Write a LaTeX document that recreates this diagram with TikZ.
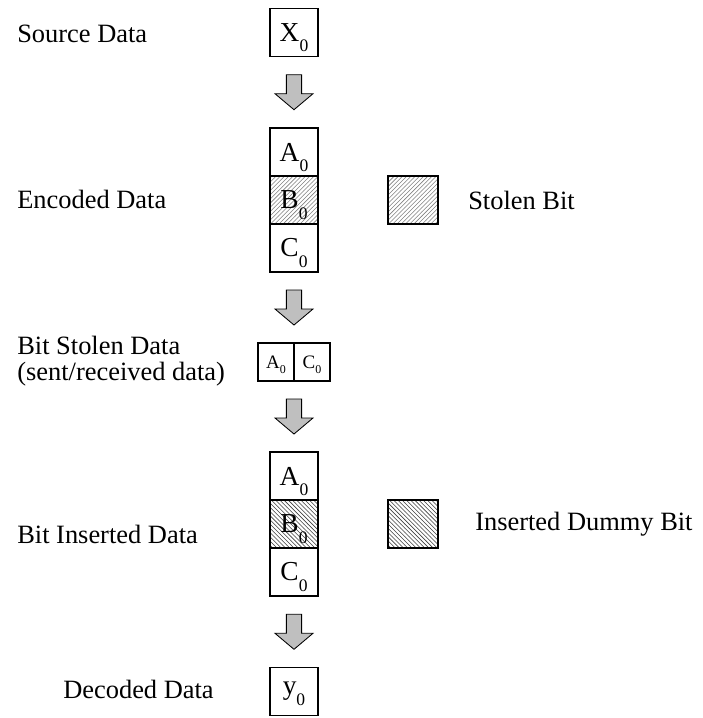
\documentclass[tikz,border=0pt]{standalone}
\usepackage{fontspec}
\setmainfont{Liberation Serif}
\usetikzlibrary{positioning, patterns}

% subscript digit, set low and small (no depth, so the letter stays centred)
\newcommand\subz[1]{\raisebox{-0.38em}[0pt][0pt]{\fontsize{12.5}{13}\selectfont #1}}
\newcommand\subs[1]{\raisebox{-0.3em}[0pt][0pt]{\fontsize{8.5}{9}\selectfont #1}}

% grey block arrow half way between two points
\newcommand\flowarrow[2]{%
\path (#1) -- (#2) coordinate[pos=0.5] (mid);
\filldraw[flow] (mid) ++(-0.19,0.4375) -- ++(0.38,0) -- ++(0,-0.475) -- ++(0.285,0)
	-- ++(-0.475,-0.4) -- ++(-0.475,0.4) -- ++(0.285,0) -- cycle;
}

\tikzset{
	cell/.style={draw, line width=0.9pt, outer sep=0pt, inner sep=0pt,
		minimum width=1.2cm, minimum height=1.2cm, font=\fontsize{19.5}{21}\selectfont},
	smallcell/.style={cell, minimum width=0.9cm, minimum height=0.95cm, font=\fontsize{13.5}{15}\selectfont},
	stolen/.style={pattern=north east lines, pattern color=black!50},
	dummy/.style={pattern=north west lines, pattern color=black!75},
	label/.style={anchor=base west, inner sep=0pt, align=left, font=\fontsize{18.8}{18}\selectfont},
	flow/.style={fill=black!25, draw, line width=0.6pt, line join=miter},
}

\begin{document}
\begin{tikzpicture}

\useasboundingbox (0,0) rectangle (17.575,-17.95);

% Source data
\node[cell] (x0) at (7.35,-0.81) {X\subz{0}};

% Encoded data
\node[cell] (enca) at (7.35,-3.8) {A\subz{0}};
\node[cell, stolen, below=0pt of enca] (encb) {B\subz{0}};
\node[cell, below=0pt of encb] (encc) {C\subz{0}};

% Bit stolen data
\node[smallcell] (sa) at (6.9,-9.05) {A\subs{0}};
\node[smallcell, right=0pt of sa] (sc) {C\subs{0}};

% Bit inserted data
\node[cell] (insa) at (7.35,-11.9) {A\subz{0}};
\node[cell, dummy, below=0pt of insa] (insb) {B\subz{0}};
\node[cell, below=0pt of insb] (insc) {C\subz{0}};

% Decoded data
\node[cell] (y0) at (7.35,-17.29) {y\subz{0}};

% arrows
\flowarrow{x0.south}{enca.north}
\flowarrow{encc.south}{sa.north east}
\flowarrow{sa.south east}{insa.north}
\flowarrow{insc.south}{y0.north}

% legend
\node[cell, stolen, minimum width=1.25cm, right=1.75cm of encb] (kstolen) {};
\node[label, anchor=west, right=0.75cm of kstolen] (tstolen) {Stolen Bit};
\node[cell, dummy, minimum width=1.25cm, right=1.75cm of insb] (kdummy) {};
\node[label, anchor=west, right=0.925cm of kdummy] (tdummy) {Inserted Dummy Bit};

% row labels
\node[label] (lsource) at (0.425,-1.05) {Source Data};
\node[label] (lenc) at (0.425,-5.2) {Encoded Data};
\node[label] (lstolen) at (0.425,-9.5) {Bit Stolen Data\\(sent/received data)};
\node[label] (lins) at (0.425,-13.575) {Bit Inserted Data};
\node[label] (ldec) at (1.575,-17.45) {Decoded Data};

\end{tikzpicture}
\end{document}
